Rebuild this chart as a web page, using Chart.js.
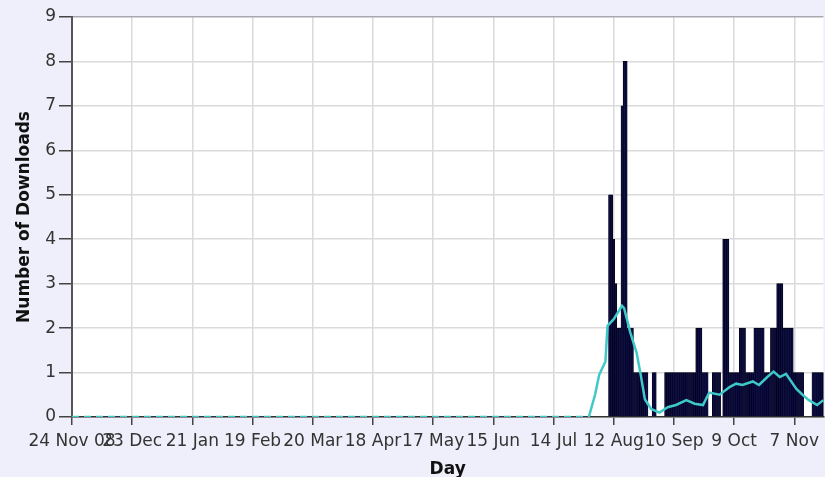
<!DOCTYPE html>
<html>
<head>
<meta charset="utf-8">
<title>Downloads per day</title>
<script src="https://cdn.jsdelivr.net/npm/chart.js@4.4.1/dist/chart.umd.min.js"></script>
<style>
  html, body { margin: 0; padding: 0; background: #efeffb; overflow: hidden; }
  #chart { display: block; }
</style>
</head>
<body>
<canvas id="chart" width="825" height="477"></canvas>
<script>
// one bar per day, first day is 24 Nov 2008
const dayCount = 363;
const tickStep = 29;
const tickLabels = ["24 Nov 08", "23 Dec", "21 Jan", "19 Feb", "20 Mar", "18 Apr", "17 May",
    "15 Jun", "14 Jul", "12 Aug", "10 Sep", "9 Oct", "7 Nov"];

// downloads are 0 until day 259, then these values day by day
const firstActiveDay = 259;
const activeDownloads = [
    5, 5, 4, 3, 2, 2, 7, 8, 8, 2, 2, 2,
    1, 1, 1, 1, 1, 1, 1, 0, 0, 1, 1, 0, 0, 0, 0,
    1, 1, 1, 1, 1, 1, 1, 1, 1, 1, 1, 1, 1, 1, 1,
    2, 2, 2, 1, 1, 1, 0, 0, 1, 1, 1, 1, 0,
    4, 4, 4, 1, 1, 1, 1, 1, 2, 2, 2, 1, 1, 1, 1,
    2, 2, 2, 2, 2, 1, 1, 1, 2, 2, 2, 3, 3, 3,
    2, 2, 2, 2, 2, 1, 1, 1, 1, 1, 0, 0, 0, 0,
    1, 1, 1, 1, 1, 1,
];

// turquoise trend line, read at these days
const trendDays = [0, 249, 252, 254, 257, 258, 261, 265, 266, 269, 272, 274, 276, 279, 283,
    287, 291, 296, 300, 304, 307, 312, 317, 320, 323, 328, 331, 335, 338, 341, 344, 349,
    352, 355, 359, 362];
const trendValues = [0, 0, 0.5, 0.95, 1.25, 2.05, 2.2, 2.5, 2.45, 1.9, 1.45, 0.95, 0.4, 0.18, 0.1,
    0.22, 0.27, 0.38, 0.3, 0.27, 0.55, 0.5, 0.68, 0.75, 0.72, 0.8, 0.72, 0.9, 1.02, 0.9, 0.97, 0.63,
    0.5, 0.38, 0.27, 0.38];

const yMax = 9;

const dayLabels = Array.from({ length: dayCount }, (_, i) => "day " + i);
const downloads = new Array(dayCount).fill(0);
activeDownloads.forEach((v, i) => {
    downloads[firstActiveDay + i] = v;
});
const trendPoints = trendDays.map((d, i) => ({ x: dayLabels[d], y: trendValues[i] }));

// white plot background
const plotBackground = {
    id: "plotBackground",
    beforeDraw(chart) {
        const { ctx, chartArea } = chart;
        ctx.save();
        ctx.fillStyle = "#ffffff";
        ctx.fillRect(chartArea.left, chartArea.top, chartArea.width, chartArea.height);
        ctx.restore();
    },
};

const tickFont = { family: "DejaVu Sans", size: 17 };
const titleFont = { family: "DejaVu Sans", size: 17, weight: "bold" };

const config = {
    type: "bar",
    data: {
        labels: dayLabels,
        datasets: [
            {
                type: "line",
                label: "Average",
                data: trendPoints,
                borderColor: "#3fc8c8",
                borderWidth: 2.5,
                pointRadius: 0,
                tension: 0,
                order: 0,
                segment: {
                    borderDash: (ctx) =>
                        ctx.p0.parsed.y === 0 && ctx.p1.parsed.y === 0 ? [7, 5] : undefined,
                },
            },
            {
                type: "bar",
                label: "Downloads",
                data: downloads,
                backgroundColor: "#0b0b4a",
                borderColor: "#000000",
                borderWidth: 0.6,
                barPercentage: 1,
                categoryPercentage: 1,
                order: 1,
            },
        ],
    },
    options: {
        responsive: false,
        animation: false,
        layout: { padding: { top: 17, right: 0, left: 0, bottom: 0 } },
        plugins: {
            legend: { display: false },
            tooltip: { enabled: false },
        },
        scales: {
            x: {
                offset: false,
                grid: {
                    offset: false,
                    color: "#dadada",
                    lineWidth: 1.5,
                    tickLength: 8,
                    tickColor: "#444",
                },
                border: { color: "#333", width: 1.5 },
                ticks: {
                    autoSkip: false,
                    maxRotation: 0,
                    minRotation: 0,
                    padding: 6,
                    color: "#333",
                    font: tickFont,
                    callback: (value, index) =>
                        index % tickStep === 0 ? tickLabels[index / tickStep] : null,
                },
                title: {
                    display: true,
                    text: "Day",
                    color: "#111",
                    font: titleFont,
                    padding: { top: 0, bottom: -3 },
                },
                afterFit: (scale) => {
                    scale.height = 60;
                },
            },
            y: {
                min: 0,
                max: yMax,
                grid: {
                    color: (ctx) => (ctx.tick && ctx.tick.value === yMax ? "#a8a8b0" : "#dadada"),
                    lineWidth: 1.5,
                    tickLength: 13,
                    tickColor: "#444",
                },
                border: { color: "#555", width: 2 },
                ticks: {
                    stepSize: 1,
                    padding: 3,
                    color: "#333",
                    font: tickFont,
                },
                title: {
                    display: true,
                    text: "Number of Downloads",
                    color: "#111",
                    font: titleFont,
                    padding: { top: 14, bottom: 0 },
                },
                afterFit: (scale) => {
                    scale.width = 72;
                },
            },
        },
    },
    plugins: [plotBackground],
};

const canvas = document.getElementById("chart");
canvas.chart = new Chart(canvas, config);
</script>
</body>
</html>
